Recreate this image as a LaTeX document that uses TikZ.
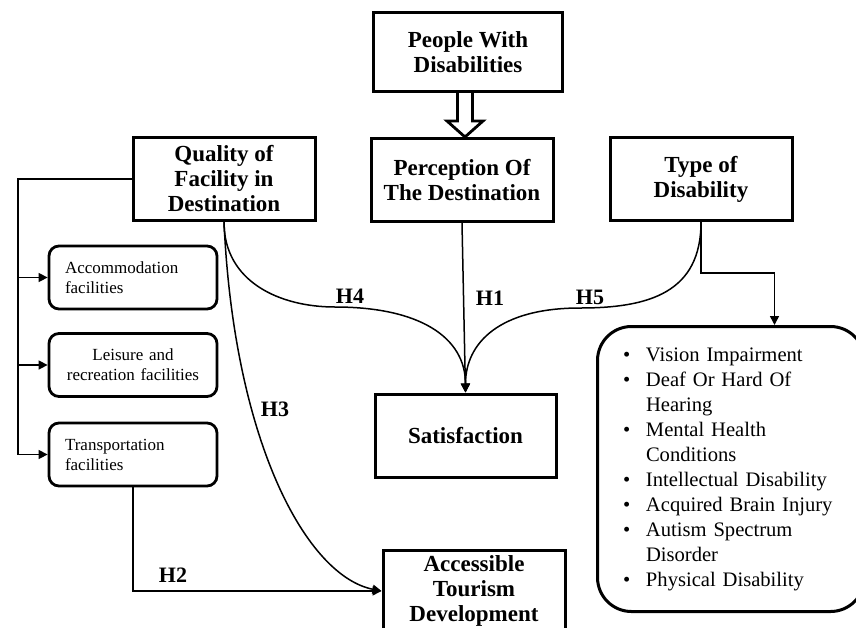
\documentclass[tikz,border=0pt]{standalone}
\usepackage{fontspec}
\setmainfont{Liberation Serif}
\usepackage{tikz}
\usetikzlibrary{arrows.meta,calc}

\newcommand{\dbul}{\makebox[11.5pt][l]{\textbullet}}
\newcommand{\dind}{\hspace*{11.5pt}}

\begin{document}
\begin{tikzpicture}[x=0.5pt, y=-0.5pt,
  hyp/.style={draw, line width=1.5pt, minimum width=91pt, minimum height=41.5pt, align=center, inner sep=2pt, font=\fontsize{11.5}{12.5}\selectfont\bfseries},
  fac/.style={draw, line width=1.4pt, rounded corners=5pt, minimum width=84pt, minimum height=31.5pt, text width=68pt, inner xsep=8pt, align=left, font=\fontsize{8.5}{10}\selectfont},
  lst/.style={draw, line width=1.5pt, rounded corners=17pt, minimum width=133.5pt, minimum height=142.5pt, text width=108pt, align=left, anchor=north west, font=\fontsize{10.3}{12.5}\selectfont},
  lnk/.style={line width=0.75pt},
  arr/.style={lnk, -{Triangle[length=4.5pt, width=4.5pt]}},
  hollow/.style={line width=1.4pt, fill=white},
  lbl/.style={font=\fontsize{11}{12}\selectfont\bfseries}
]
\useasboundingbox (0,0) rectangle (856,627);
\clip (0,0) rectangle (856,627);

%--- Main constructs ---
\node[hyp, minimum width=94.5pt, minimum height=39.5pt] (people) at (468,52) {People With\\Disabilities};
\node[hyp] (perc) at (462,180) {Perception Of\\The Destination};
\node[hyp] (quality) at (224,179) {Quality of\\Facility in\\Destination};
\node[hyp] (type) at (701,179) {Type of\\Disability};
\node[hyp, minimum width=90.5pt] (sat) at (465.5,435.5) {Satisfaction};
\node[hyp, minimum height=41pt] (acc) at (474,591) {Accessible\\Tourism\\Development};

%--- Facilities (left) ---
\node[fac] (accom) at (133,277.5) {Accommodation\\facilities};
\node[fac, align=center] (leis) at (133,365) {Leisure and\\recreation facilities};
\node[fac] (trans) at (133,454.5) {Transportation\\facilities};

%--- Types of disability (right) ---
\node[lst] (types) at (596,325) {\dbul Vision Impairment\\
\dbul Deaf Or Hard Of\\
\dind Hearing\\
\dbul Mental Health\\
\dind Conditions\\
\dbul Intellectual Disability\\
\dbul Acquired Brain Injury\\
\dbul Autism Spectrum\\
\dind Disorder\\
\dbul Physical Disability};

%--- Hollow arrow ---
\coordinate (hmid) at ($(people.south)!0.5!(perc.north)$);
\draw[hollow] ($(hmid |- people.south)+(-7.5,0)$) -- ($(hmid)+(-7.5,6)$) -- ($(hmid)+(-18,6)$)
  -- (hmid |- perc.north) -- ($(hmid)+(18,6)$) -- ($(hmid)+(7.5,6)$) -- ($(hmid |- people.south)+(7.5,0)$);

%--- Facility branches ---
\coordinate (trunk) at (18,179);
\draw[arr] (quality.west) -- (trunk) |- (trans.west);
\draw[arr] (trunk |- accom.west) -- (accom.west);
\draw[arr] (trunk |- leis.west) -- (leis.west);

%--- Hypotheses ---
\coordinate (h4bend) at (335,307);
\coordinate (h5bend) at (580,308);
\draw[arr] (perc.south) -- (sat.north);
\draw[arr] (quality.south) .. controls +(0,60) and +(-55,0) .. (h4bend) .. controls +(85,0) and +(0,-55) .. (sat.north);
\draw[arr] (type.south) .. controls +(0,70) and +(70,0) .. (h5bend) .. controls +(-80,0) and +(0,-50) .. (sat.north);
\draw[arr] (quality.south) .. controls +(10,220) and +(-75,-15) .. (acc.west);
\draw[arr] (trans.south) |- (acc.west);

\coordinate (tbend) at (701,273);
\draw[arr] (type.south) -- (tbend) -| ([xshift=21.75pt]types.north);

\node[lbl] (h1) at (490,298) {H1};
\node[lbl] (h2) at (173,575) {H2};
\node[lbl] (h3) at (275,409) {H3};
\node[lbl] (h4) at (350,296) {H4};
\node[lbl] (h5) at (590,297) {H5};
\end{tikzpicture}
\end{document}
